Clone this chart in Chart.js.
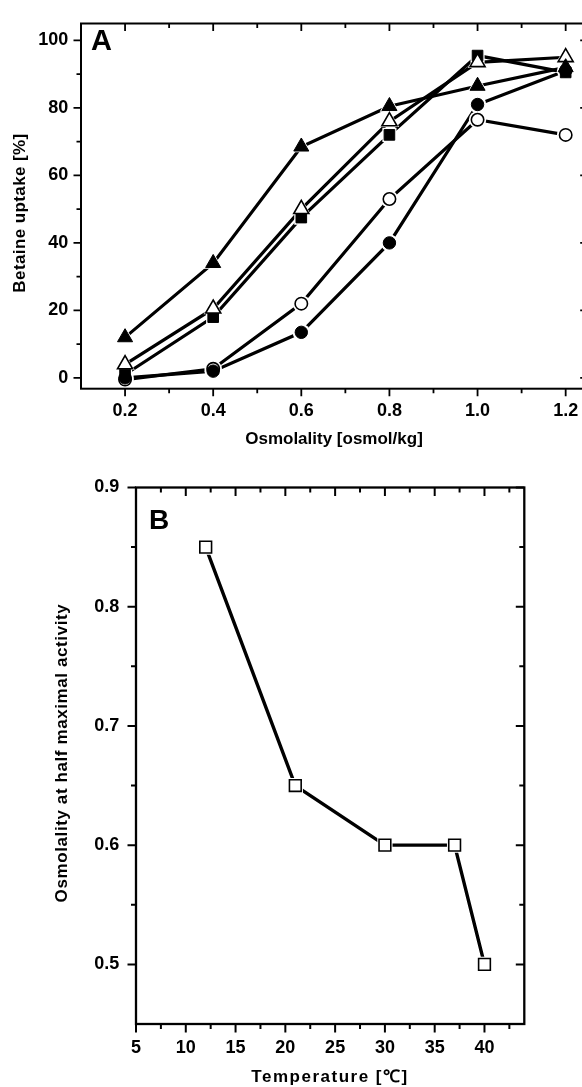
<!DOCTYPE html>
<html><head><meta charset="utf-8">
<script src="https://cdn.jsdelivr.net/npm/chart.js@4.4.1/dist/chart.umd.min.js"></script>
<style>
html,body{margin:0;padding:0;background:#fff;overflow:hidden;width:582px;height:1087px;position:relative;}
#wrapA{position:absolute;left:0;top:0;width:600px;height:460px;}
#wrapB{position:absolute;left:0;top:460px;width:582px;height:627px;}
canvas{display:block;}
</style></head><body>
<div id="wrapA"><canvas id="chartA" width="600" height="460" style="width:600px;height:460px"></canvas></div>
<div id="wrapB"><canvas id="chartB" width="582" height="627" style="width:582px;height:627px"></canvas></div>
<script>
// ---------- Panel A data ----------
const osmolality = [0.2, 0.4, 0.6, 0.8, 1.0, 1.2];
const uptakeFilledTriangle = [12, 34, 68.5, 80.5, 86.5, 92];
const uptakeOpenTriangle   = [4, 20.5, 50, 76, 93.5, 95];
const uptakeFilledSquare   = [1, 18, 47.5, 72, 95.5, 90.5];
const uptakeFilledCircle   = [0, 2, 13.5, 40, 81, 91];
const uptakeOpenCircle     = [-0.5, 2.7, 22, 53, 76.5, 72];
const xTicksA = [0.2, 0.4, 0.6, 0.8, 1.0, 1.2];
const xMinorA = [0.3, 0.5, 0.7, 0.9, 1.1];
const yTicksA = [0, 20, 40, 60, 80, 100];
const yMinorA = [10, 30, 50, 70, 90];

// ---------- Panel B data ----------
const temperature = [12, 21, 30, 37, 40];
const halfMaxOsmolality = [0.85, 0.65, 0.60, 0.60, 0.50];
const xTicksB = [5, 10, 15, 20, 25, 30, 35, 40];
const xMinorB = [7.5, 12.5, 17.5, 22.5, 27.5, 32.5, 37.5, 42.5];
const yTicksB = [0.5, 0.6, 0.7, 0.8, 0.9];
const yMinorB = [0.55, 0.65, 0.75, 0.85];

const FONT = '"Liberation Sans", Arial, Helvetica, sans-serif';
const INK = '#000';

const framePlugin = {
  id: 'frameTicks',
  afterDraw(chart, args, o) {
    const ctx = chart.ctx, a = chart.chartArea;
    const xs = chart.scales.x, ys = chart.scales.y;
    ctx.save();
    ctx.strokeStyle = INK;
    ctx.lineWidth = o.lw;
    ctx.lineCap = 'butt';
    ctx.beginPath();
    const tick = (vals, len) => {
      vals.forEach(v => {
        const px = xs.getPixelForValue(v);
        ctx.moveTo(px, a.bottom); ctx.lineTo(px, a.bottom + len);   // bottom outward
        ctx.moveTo(px, a.top);    ctx.lineTo(px, a.top + len);      // top inward
      });
    };
    const tickY = (vals, len) => {
      vals.forEach(v => {
        const py = ys.getPixelForValue(v);
        ctx.moveTo(a.left, py);  ctx.lineTo(a.left - len, py);      // left outward
        ctx.moveTo(a.right, py); ctx.lineTo(a.right - len, py);     // right inward
      });
    };
    tick(o.majorX, o.majorLen); tick(o.minorX, o.minorLen);
    tickY(o.majorY, o.majorLen); tickY(o.minorY, o.minorLen);
    ctx.stroke();
    ctx.lineWidth = o.frameW;
    ctx.strokeRect(a.left, a.top, a.right - a.left, a.bottom - a.top);
    // panel letter
    ctx.fillStyle = INK;
    ctx.font = 'bold ' + o.letterSize + 'px ' + FONT;
    ctx.textAlign = 'left'; ctx.textBaseline = 'alphabetic';
    ctx.fillText(o.letter, o.letterX, o.letterY);
    // axis titles
    ctx.font = 'bold ' + o.titleSize + 'px ' + FONT;
    ctx.textAlign = 'center'; ctx.textBaseline = 'middle';
    ctx.letterSpacing = o.xTitleSpacing + 'px';
    ctx.fillText(o.xTitle, o.xTitleX, o.xTitleY);
    ctx.letterSpacing = o.yTitleSpacing + 'px';
    ctx.translate(o.yTitleX, o.yTitleY);
    ctx.rotate(-Math.PI / 2);
    ctx.fillText(o.yTitle, 0, 0);
    ctx.restore();
  }
};

function pts(xv, yv) { return xv.map((x, i) => ({ x: x, y: yv[i] })); }

function layered(series, lineW, gap) {
  const lines = [], halos = [], marks = [];
  series.forEach(s => {
    lines.push({ data: s.data, showLine: true, borderColor: INK, borderWidth: lineW,
      pointRadius: 0, tension: 0, order: 3 });
    halos.push({ data: s.data, showLine: false, pointStyle: s.style, pointRadius: s.r + gap,
      pointBackgroundColor: '#fff', pointBorderColor: '#fff', pointBorderWidth: 0, order: 2 });
    marks.push({ data: s.data, showLine: false, pointStyle: s.style, pointRadius: s.r,
      pointBackgroundColor: s.fill, pointBorderColor: INK, pointBorderWidth: s.bw, order: 1 });
  });
  return lines.concat(halos, marks);
}

function fixedTicks(arr) {
  return function (scale) { scale.ticks = arr.map(v => ({ value: v })); };
}

// ---------- Chart A ----------
const seriesA = [
  { data: pts(osmolality, uptakeFilledTriangle), style: 'triangle', r: 8.7, fill: INK, bw: 1 },
  { data: pts(osmolality, uptakeOpenTriangle), style: 'triangle', r: 8.7, fill: '#fff', bw: 1.6 },
  { data: pts(osmolality, uptakeFilledSquare), style: 'rect', r: 7.5, fill: INK, bw: 1 },
  { data: pts(osmolality, uptakeFilledCircle), style: 'circle', r: 6.2, fill: INK, bw: 1 },
  { data: pts(osmolality, uptakeOpenCircle), style: 'circle', r: 6.2, fill: '#fff', bw: 1.6 }
];

new Chart(document.getElementById('chartA'), {
  type: 'scatter',
  data: { datasets: layered(seriesA, 3.2, 2.5) },
  plugins: [framePlugin],
  options: {
    responsive: false, animation: false, events: [],
    layout: { padding: { left: 0, top: 15, right: 12.3, bottom: 0 } },
    plugins: {
      legend: { display: false }, tooltip: { enabled: false },
      frameTicks: {
        majorX: xTicksA, minorX: xMinorA, majorY: yTicksA, minorY: yMinorA,
        majorLen: 7.5, minorLen: 4.5, lw: 1.8, frameW: 2,
        letter: 'A', letterSize: 29, letterX: 91, letterY: 50,
        titleSize: 17,
        xTitle: 'Osmolality [osmol/kg]', xTitleX: 334, xTitleY: 439, xTitleSpacing: 0,
        yTitle: 'Betaine uptake [%]', yTitleX: 20.5, yTitleY: 213, yTitleSpacing: 0.4
      }
    },
    scales: {
      x: {
        type: 'linear', min: 0.1, max: 1.25,
        afterBuildTicks: fixedTicks(xTicksA),
        afterFit: s => { s.height = 71.3; },
        grid: { display: false, drawTicks: false }, border: { display: false },
        ticks: { color: INK, padding: 12, maxRotation: 0, autoSkip: false,
          font: { family: FONT, size: 18, weight: 'bold' },
          callback: v => Number(v).toFixed(1) }
      },
      y: {
        type: 'linear', min: -3.2, max: 105,
        afterBuildTicks: fixedTicks(yTicksA),
        afterFit: s => { s.width = 81; },
        grid: { display: false, drawTicks: false }, border: { display: false },
        ticks: { color: INK, padding: 12.7, autoSkip: false,
          font: { family: FONT, size: 18, weight: 'bold' },
          callback: v => String(v) }
      }
    }
  }
});

// ---------- Chart B ----------
const seriesB = [
  { data: pts(temperature, halfMaxOsmolality), style: 'rect', r: 8.3, fill: '#fff', bw: 1.6 }
];

new Chart(document.getElementById('chartB'), {
  type: 'scatter',
  data: { datasets: layered(seriesB, 3.4, 2.5) },
  plugins: [framePlugin],
  options: {
    responsive: false, animation: false, events: [],
    layout: { padding: { left: 0, top: 27.3, right: 57.7, bottom: 0 } },
    plugins: {
      legend: { display: false }, tooltip: { enabled: false },
      frameTicks: {
        majorX: xTicksB, minorX: xMinorB, majorY: yTicksB, minorY: yMinorB,
        majorLen: 8.5, minorLen: 5, lw: 2, frameW: 2.3,
        letter: 'B', letterSize: 28, letterX: 149, letterY: 69,
        titleSize: 17,
        xTitle: 'Temperature [\u2103]', xTitleX: 330, xTitleY: 617, xTitleSpacing: 1.5,
        yTitle: 'Osmolality at half maximal activity', yTitleX: 62, yTitleY: 293, yTitleSpacing: 0.6
      }
    },
    scales: {
      x: {
        type: 'linear', min: 5, max: 44,
        afterBuildTicks: fixedTicks(xTicksB),
        afterFit: s => { s.height = 63; },
        grid: { display: false, drawTicks: false }, border: { display: false },
        ticks: { color: INK, padding: 13, maxRotation: 0, autoSkip: false,
          font: { family: FONT, size: 18, weight: 'bold' },
          callback: v => String(v) }
      },
      y: {
        type: 'linear', min: 0.45, max: 0.9,
        afterBuildTicks: fixedTicks(yTicksB),
        afterFit: s => { s.width = 136; },
        grid: { display: false, drawTicks: false }, border: { display: false },
        ticks: { color: INK, padding: 16.7, autoSkip: false,
          font: { family: FONT, size: 18, weight: 'bold' },
          callback: v => Number(v).toFixed(1) }
      }
    }
  }
});
</script>
</body></html>
